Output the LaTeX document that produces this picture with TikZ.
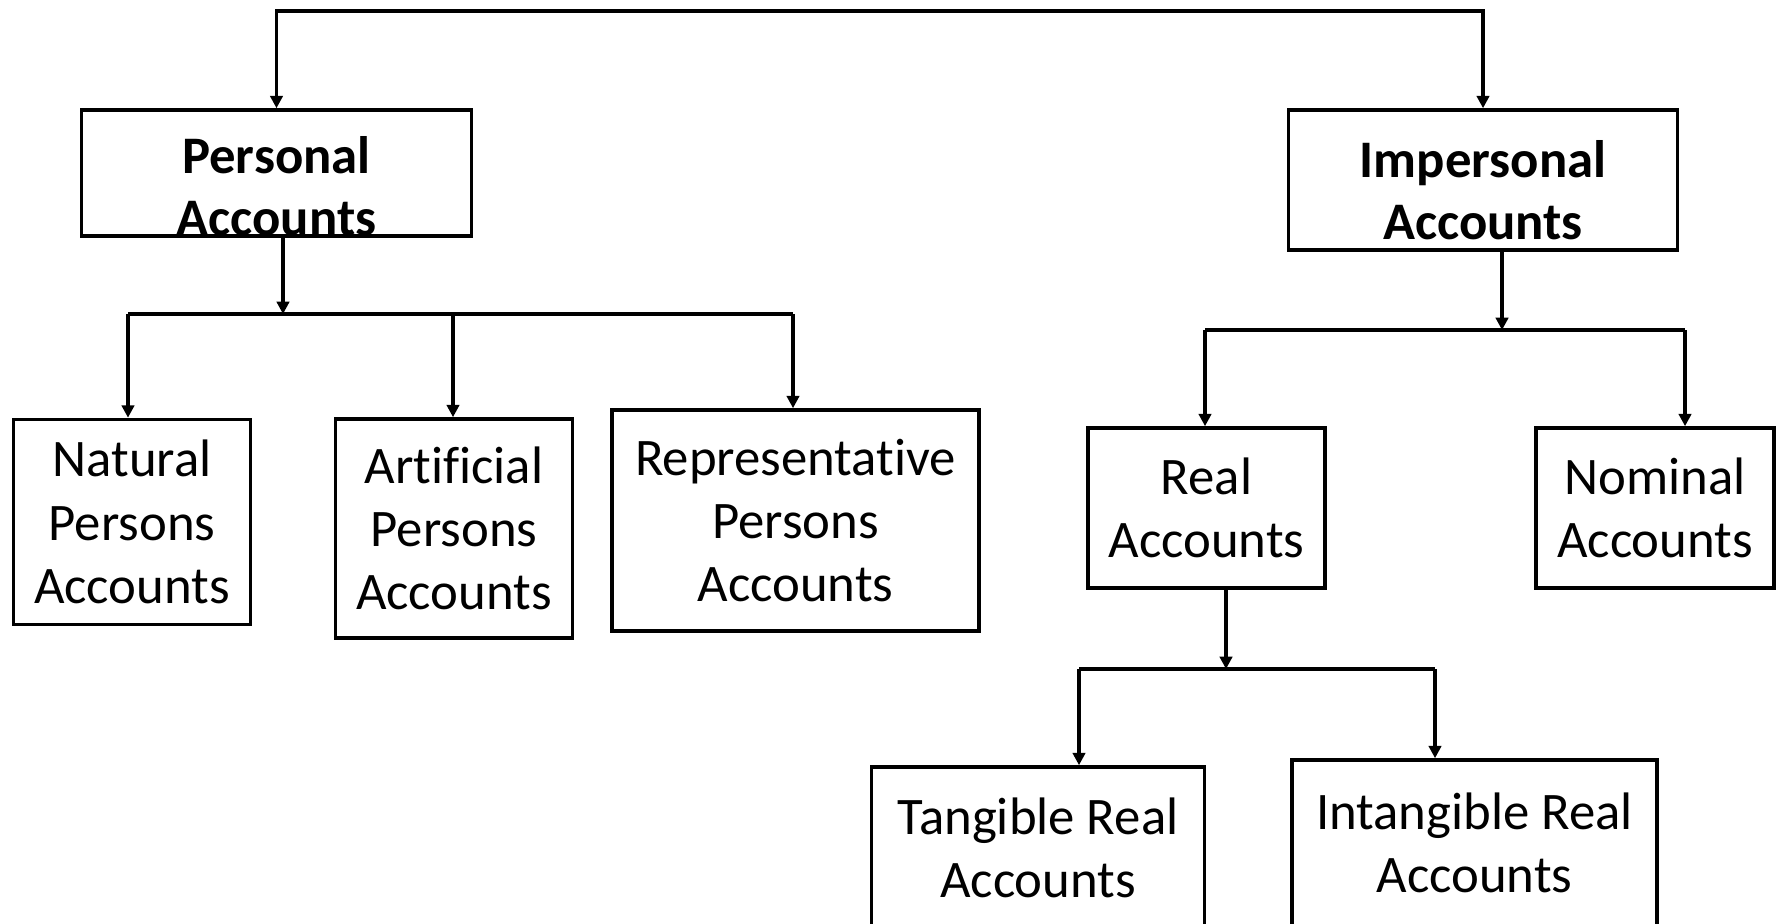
\documentclass[tikz,border=0pt]{standalone}
\usepackage{fontspec}
\setmainfont[Ligatures=NoCommon]{Carlito}
\usetikzlibrary{arrows.meta}

\begin{document}
\begin{tikzpicture}[x=0.01cm, y=-0.01cm,
  acct/.style={draw, line width=1pt, inner sep=0pt, align=center,
    font=\fontsize{15}{18}\selectfont},
  head/.style={align=center, font=\fontsize{15}{17.8}\selectfont\bfseries},
  arr/.style={line width=0.95pt, -{Triangle[length=3.5pt,width=3.5pt]}},
  bus/.style={line width=0.95pt}]
  \useasboundingbox (0,0) rectangle (1777,923);
  \clip (0,0) rectangle (1777,923);

  % Two main groups
  \node[acct, minimum width=3.90cm, minimum height=1.26cm] (pers) at (276.5,173) {};
  \node[head] (persT) at (276.5,186) {Personal\\Accounts};
  \node[acct, minimum width=3.89cm, minimum height=1.40cm] (imp) at (1483,180) {};
  \node[head] (impT) at (1483,190) {Impersonal\\Accounts};

  % Personal accounts
  \node[acct, minimum width=2.37cm, minimum height=2.05cm] (nat) at (132,522) {Natural\\Persons\\Accounts};
  \node[acct, minimum width=2.37cm, minimum height=2.19cm] (art) at (454,528.5) {Artificial\\Persons\\Accounts};
  \node[acct, minimum width=3.67cm, minimum height=2.21cm] (rep) at (795.5,520.5) {Representative\\Persons\\Accounts};

  % Impersonal accounts
  \node[acct, minimum width=2.37cm, minimum height=1.60cm] (real) at (1206.5,508) {Real\\Accounts};
  \node[acct, minimum width=2.38cm, minimum height=1.60cm] (nom) at (1655,508) {Nominal\\Accounts};

  % Real accounts (boxes run off the bottom)
  \node[acct, minimum width=3.33cm, minimum height=1.62cm] (tan) at (1038,848) {Tangible Real\\Accounts};
  \node[acct, minimum width=3.65cm, minimum height=1.66cm] (intan) at (1474.5,843) {Intangible Real\\Accounts};

  % Top split
  \coordinate (top) at (880,11);
  \draw[arr] (top) -| (pers.north);
  \draw[arr] (top) -| (imp.north);

  % Personal split
  \coordinate (pdrop) at (283,314);
  \coordinate (pbusL) at (128,314);
  \coordinate (pbusM) at (453,314);
  \coordinate (pbusR) at (793,314);
  \draw[arr] (pdrop |- pers.south) -- (pdrop);
  \draw[bus] (pbusL) -- (pbusR);
  \foreach \b/\n in {pbusL/nat, pbusM/art, pbusR/rep}
    \draw[arr] (\b) -- (\b |- \n.north);

  % Impersonal split
  \coordinate (idrop) at (1502,330);
  \coordinate (ibusL) at (1205,330);
  \coordinate (ibusR) at (1685,330);
  \draw[arr] (idrop |- imp.south) -- (idrop);
  \draw[bus] (ibusL) -- (ibusR);
  \foreach \b/\n in {ibusL/real, ibusR/nom}
    \draw[arr] (\b) -- (\b |- \n.north);

  % Real split
  \coordinate (rdrop) at (1226,669);
  \coordinate (rbusL) at (1079,669);
  \coordinate (rbusR) at (1435,669);
  \draw[arr] (rdrop |- real.south) -- (rdrop);
  \draw[bus] (rbusL) -- (rbusR);
  \foreach \b/\n in {rbusL/tan, rbusR/intan}
    \draw[arr] (\b) -- (\b |- \n.north);
\end{tikzpicture}
\end{document}
